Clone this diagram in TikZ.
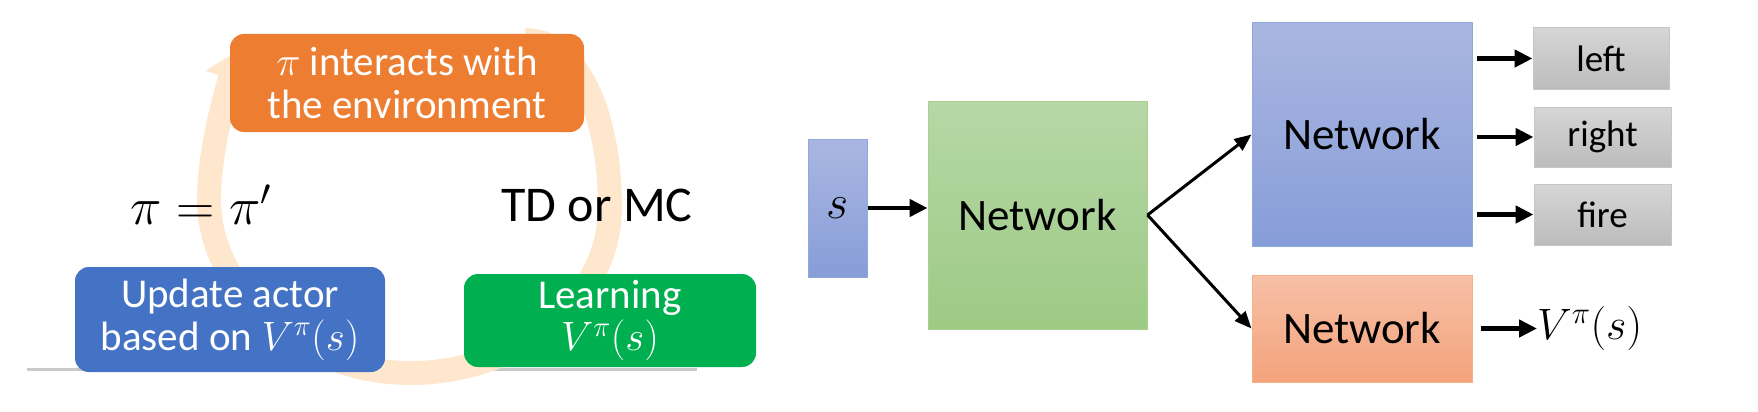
\documentclass[tikz,border=0pt]{standalone}
\usepackage{fix-cm}
\usepackage{fontspec}
\setmainfont{Carlito}
\usetikzlibrary{arrows.meta}
\definecolor{cOrange}{HTML}{ED7D31}
\definecolor{cBlue}{HTML}{4472C4}
\definecolor{cGreen}{HTML}{00B050}
\definecolor{cRing}{HTML}{FEE7CD}
\definecolor{cLine}{HTML}{CACACA}
\definecolor{bTop}{HTML}{AAB6E1}
\definecolor{bBot}{HTML}{879DD8}
\definecolor{bEdge}{HTML}{8EA9DB}
\definecolor{gTop}{HTML}{B6D7A6}
\definecolor{gBot}{HTML}{9DCA85}
\definecolor{gEdge}{HTML}{A9D18E}
\definecolor{oTop}{HTML}{F7C0A7}
\definecolor{oBot}{HTML}{F4A37C}
\definecolor{oEdge}{HTML}{F4B183}
\definecolor{kTop}{HTML}{D6D6D6}
\definecolor{kBot}{HTML}{BCBCBC}
\definecolor{kEdge}{HTML}{C6C6C6}
\begin{document}
\begin{tikzpicture}[x=1pt,y=-1pt,
  rbox/.style={rounded corners=14pt, inner sep=0pt, text=white, align=center,
    font=\fontsize{41}{43}\selectfont},
  netbox/.style={inner sep=0pt, line width=1pt, align=center,
    font=\fontsize{45}{45}\selectfont},
  bluebox/.style={netbox, draw=bEdge, top color=bTop, bottom color=bBot},
  greenbox/.style={netbox, draw=gEdge, top color=gTop, bottom color=gBot},
  orangebox/.style={netbox, draw=oEdge, top color=oTop, bottom color=oBot},
  greybox/.style={netbox, draw=kEdge, top color=kTop, bottom color=kBot,
    font=\fontsize{37}{37}\selectfont},
  bigarrow/.style={line width=4.5pt, -{Triangle[length=18pt,width=17pt]}},
  diagarrow/.style={line width=3pt, -{Triangle[length=17pt,width=14pt]}},
  lbl/.style={inner sep=0pt}
]
\useasboundingbox (0,0) rectangle (1758,412);

% faint base line
\draw[cLine, line width=3pt] (27,369) -- (697,369);

% cycle ring
\draw[cRing, line width=24pt, -{Triangle[length=30pt,width=50pt]}]
  (525,40) .. controls (580,40) and (610,120) .. (610,207)
  .. controls (610,300) and (520,373) .. (410,373)
  .. controls (300,373) and (209,290) .. (209,200)
  .. controls (209,150) and (227,88) .. (239,50);

% left panel boxes
\node[rbox, fill=cOrange, minimum width=354pt, minimum height=98pt] (inter) at (407,83)
  {$\pi$ interacts with\\the environment};
\node[rbox, fill=cBlue, minimum width=310pt, minimum height=105pt] (upd) at (230,319.5)
  {Update actor\\based on $V^{\pi}(s)$};
\node[rbox, fill=cGreen, minimum width=292pt, minimum height=93pt] (learn) at (610,320.5)
  {Learning\\$V^{\pi}(s)$};
\node[lbl, font=\fontsize{53}{53}\selectfont] (eq) at (201,205) {$\pi=\pi'$};
\node[lbl, font=\fontsize{50}{50}\selectfont] (td) at (597,205) {TD or MC};

% right panel
\node[bluebox, minimum width=59pt, minimum height=138pt, font=\fontsize{48}{48}\selectfont] (s) at (837.5,208) {$s$};
\node[greenbox, minimum width=219pt, minimum height=228pt] (g) at (1037.5,215) {Network};
\node[bluebox, minimum width=220pt, minimum height=223pt] (b) at (1362,134.5) {Network};
\node[orangebox, minimum width=220pt, minimum height=107pt] (o) at (1362,328.5) {Network};
\node[greybox, minimum width=136pt, minimum height=61pt] (l) at (1601,58.5) {left};
\node[greybox, minimum width=137pt, minimum height=60pt] (r) at (1602.5,137) {right};
\node[greybox, minimum width=137pt, minimum height=61pt] (f) at (1602.5,214.5) {fire};
\node[lbl, anchor=west, font=\fontsize{44}{44}\selectfont] (v) at (1537,328.5) {$V^{\pi}(s)$};

\draw[bigarrow] (s.east) -- (s.east -| g.west);
\draw[diagarrow] (g.east) -- (b.west);
\draw[diagarrow] (g.east) -- (o.west);
\draw[bigarrow] (l.west -| b.east) ++(4,0) -- (l.west);
\draw[bigarrow] (r.west -| b.east) ++(4,0) -- (r.west);
\draw[bigarrow] (f.west -| b.east) ++(4,0) -- (f.west);
\draw[bigarrow] (o.east) ++(8,0) -- (v.west);
\end{tikzpicture}
\end{document}
